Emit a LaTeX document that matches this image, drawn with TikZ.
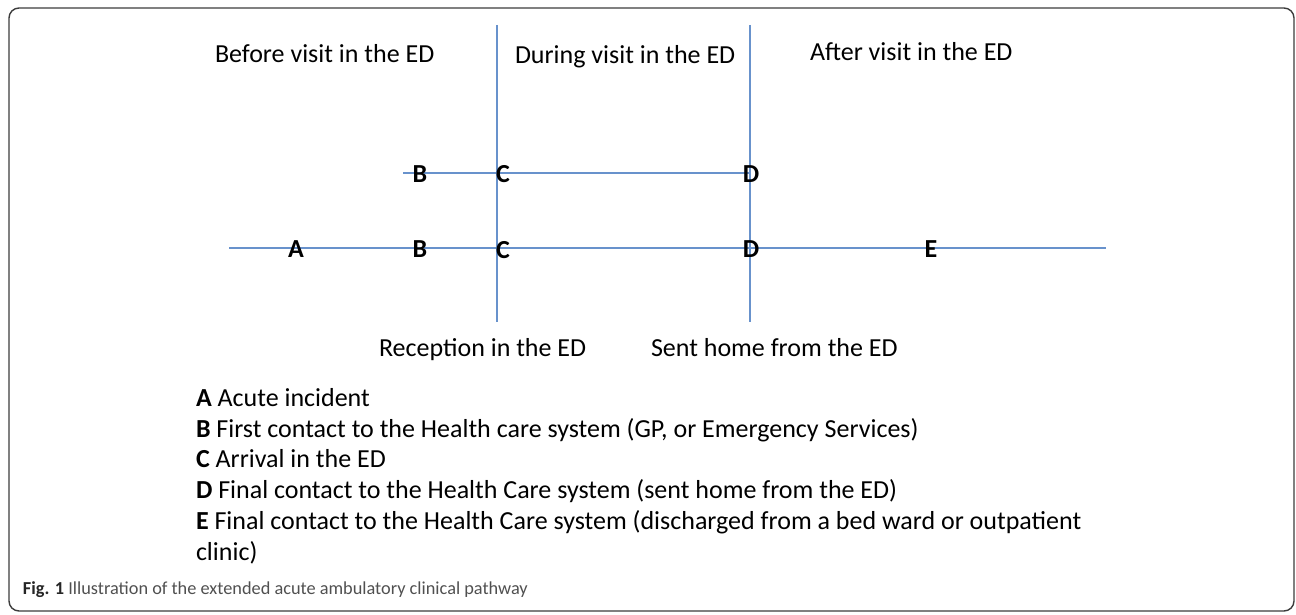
\documentclass[tikz,border=0pt]{standalone}
\usepackage{fontspec}
\setmainfont{Carlito}
\definecolor{lineblue}{RGB}{104,146,204}
\definecolor{framecol}{RGB}{60,60,60}
\definecolor{capgray}{RGB}{80,80,80}
\begin{document}
\begin{tikzpicture}[x=1pt,y=-1pt,
  every node/.style={inner sep=0pt, outer sep=0pt},
  txt/.style={font=\fontsize{26}{31}\selectfont, anchor=base west},
  letter/.style={font=\fontsize{26}{31}\selectfont\bfseries, anchor=center},
  pline/.style={draw=lineblue, line width=1.2pt},
  captxt/.style={font=\fontsize{18.3}{21}\selectfont, anchor=base west, text=capgray}]
\useasboundingbox (0,0) rectangle (1296,615);
\draw[framecol, line width=1.4pt, rounded corners=10pt] (9,8) rectangle (1294,611);

% line end points
\coordinate (v1t) at (497,25);  \coordinate (v1b) at (497,322);
\coordinate (v2t) at (750,25);  \coordinate (v2b) at (750,322);
\coordinate (h1l) at (403,173); \coordinate (h1r) at (750,173);
\coordinate (h2l) at (229,248); \coordinate (h2r) at (1106,248);

\draw[pline] (v1t) -- (v1b);
\draw[pline] (v2t) -- (v2b);
\draw[pline] (h1l) -- (h1r);
\draw[pline] (h2l) -- (h2r);

% letters on the lines
\node[letter] (b1) at (420,174.5) {B};
\node[letter] (c1) at (503,174.5) {C};
\node[letter] (d1) at (751,174.5) {D};
\node[letter] (a2) at (296,249) {A};
\node[letter] (b2) at (420,249.5) {B};
\node[letter] (c2) at (503,250.5) {C};
\node[letter] (d2) at (751,249.5) {D};
\node[letter] (e2) at (931,249) {E};

% headings
\node[txt] (before) at (215,63) {Before visit in the ED};
\node[txt] (during) at (515,64) {During visit in the ED};
\node[txt] (after) at (810,61) {After visit in the ED};
\node[txt] (recep) at (379,356) {Reception in the ED};
\node[txt] (sent) at (651,356) {Sent home from the ED};

% legend
\node[txt] (la) at (196,406) {\textbf{A} Acute incident};
\node[txt] (lb) at (196,437) {\textbf{B} First contact to the Health care system (GP, or Emergency Services)};
\node[txt] (lc) at (196,467) {\textbf{C} Arrival in the ED};
\node[txt] (ld) at (196,498) {\textbf{D} Final contact to the Health Care system (sent home from the ED)};
\node[txt] (le) at (196,529) {\textbf{E} Final contact to the Health Care system (discharged from a bed ward or outpatient};
\node[txt] (le2) at (196,560) {clinic)};

% caption
\node[captxt] (cap) at (23,594) {\textbf{\color{black!85}Fig. 1} Illustration of the extended acute ambulatory clinical pathway};
\end{tikzpicture}
\end{document}
